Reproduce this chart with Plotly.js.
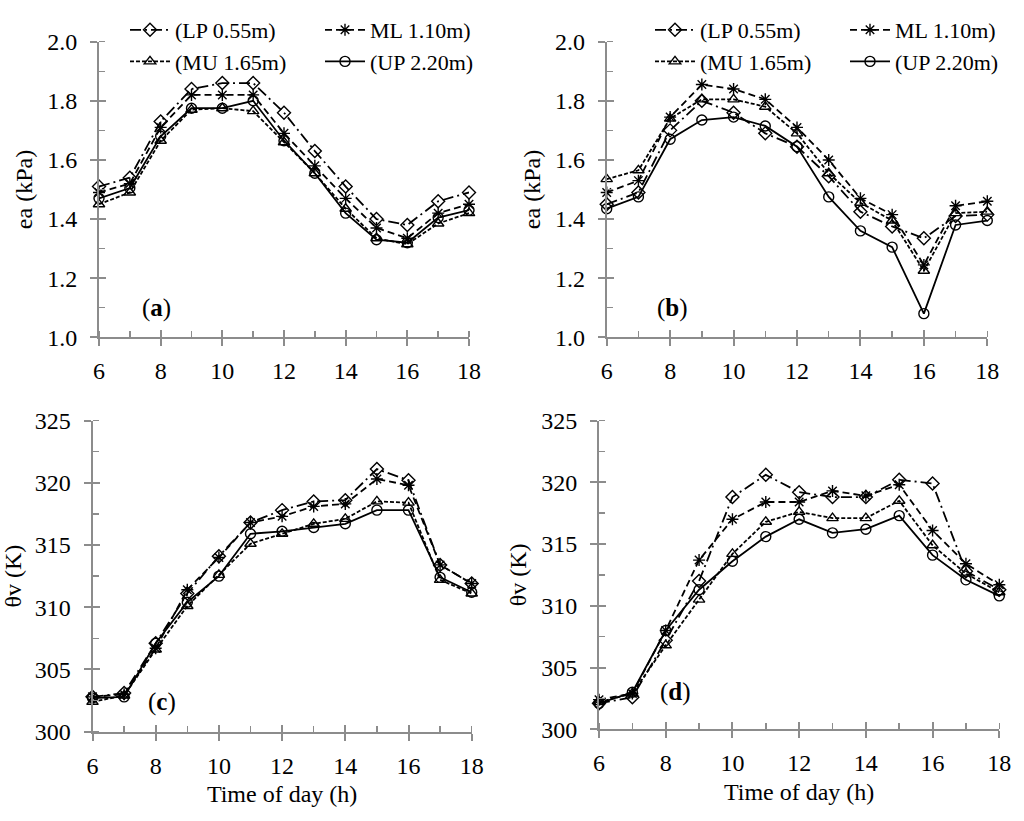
<!DOCTYPE html>
<html><head><meta charset="utf-8">
<script src="https://cdn.plot.ly/plotly-3.0.1.min.js"></script>
<style>html,body{margin:0;padding:0;background:#fff}#chart{width:1024px;height:821px}</style>
</head><body><div id="chart"></div>
<script>
// ---- data ----
const hours = [6,7,8,9,10,11,12,13,14,15,16,17,18];
const seriesNames = ['(LP 0.55m)', 'ML 1.10m)', '(MU 1.65m)', '(UP 2.20m)'];
const panelLabels = ['a','b','c','d'];
const eaTitle = 'ea (kPa)';
const thetaTitle = 'θv (K)';
const timeTitle = 'Time of day (h)';

// (a) vapour pressure
const eaA_LP = [1.51,1.54,1.73,1.84,1.86,1.86,1.76,1.63,1.51,1.40,1.38,1.46,1.49];
const eaA_ML = [1.49,1.52,1.71,1.82,1.82,1.82,1.69,1.58,1.47,1.37,1.335,1.42,1.45];
const eaA_MU = [1.45,1.49,1.665,1.77,1.775,1.765,1.66,1.555,1.435,1.335,1.315,1.385,1.42];
const eaA_UP = [1.47,1.505,1.68,1.775,1.775,1.80,1.665,1.555,1.42,1.33,1.32,1.405,1.43];
// (b) vapour pressure
const eaB_LP = [1.45,1.49,1.70,1.80,1.76,1.69,1.645,1.545,1.425,1.375,1.335,1.41,1.415];
const eaB_ML = [1.49,1.53,1.745,1.855,1.84,1.805,1.71,1.60,1.47,1.415,1.245,1.445,1.46];
const eaB_MU = [1.535,1.565,1.74,1.805,1.805,1.78,1.69,1.555,1.455,1.395,1.225,1.42,1.425];
const eaB_UP = [1.435,1.475,1.67,1.735,1.745,1.715,1.645,1.475,1.36,1.305,1.08,1.38,1.395];
// (c) virtual potential temperature
const thC_LP = [302.8,303.1,307.1,311.1,314.1,316.8,317.8,318.5,318.6,321.1,320.2,313.4,311.9];
const thC_ML = [302.8,303.0,306.7,311.4,314.0,316.8,317.3,318.1,318.3,320.3,319.8,313.4,311.9];
const thC_MU = [302.4,302.9,306.6,310.1,312.6,315.1,315.9,316.7,317.1,318.5,318.4,312.2,311.1];
const thC_UP = [302.7,302.8,307.1,310.4,312.5,315.9,316.1,316.4,316.7,317.8,317.8,312.4,311.2];
// (d) virtual potential temperature
const thD_LP = [302.1,302.6,307.2,312.0,318.8,320.6,319.2,318.8,318.8,320.2,319.9,312.8,311.3];
const thD_ML = [302.4,302.9,308.0,313.7,317.0,318.4,318.4,319.3,318.9,319.8,316.1,313.4,311.7];
const thD_MU = [302.2,302.9,306.8,310.5,314.2,316.8,317.6,317.1,317.1,318.5,314.9,312.6,311.1];
const thD_UP = [302.1,303.0,308.0,311.3,313.6,315.6,317.0,315.9,316.2,317.3,314.1,312.1,310.8];

const xRange = [6,18];
const eaRange = [1.0,2.0];
const thRange = [300,325];

// ---- styles ----
const gray = '#8c8c8c';
const fam = 'Liberation Serif, Times New Roman, serif';
const seriesStyle = [
  {symbol:'diamond-open',    dash:'11px,4px,2px,4px'},
  {symbol:'asterisk-open',   dash:'7px,4px'},
  {symbol:'triangle-up-open',dash:'4px,2px'},
  {symbol:'circle-open',     dash:'solid'}
];

// legend column per series: LP & MU in left column, ML & UP in right column
const legendCol = [0, 1, 0, 1];

const panels = [
  {s:'',  data:[eaA_LP,eaA_ML,eaA_MU,eaA_UP], legends:['legend','legend2'],
   xdom:[99/1024,469/1024], ydom:[1-337.3/821,1-41.7/821], yr:eaRange, dt:0.2, mdt:0.1, fmt:'.1f', ytitle:eaTitle, xtitle:null, lab:[7.88,1.10]},
  {s:'2', data:[eaB_LP,eaB_ML,eaB_MU,eaB_UP], legends:['legend3','legend4'],
   xdom:[606.7/1024,987.3/1024], ydom:[1-337.3/821,1-41.7/821], yr:eaRange, dt:0.2, mdt:0.1, fmt:'.1f', ytitle:eaTitle, xtitle:null, lab:[8.06,1.10]},
  {s:'3', data:[thC_LP,thC_ML,thC_MU,thC_UP], legends:null,
   xdom:[92.5/1024,471.7/1024], ydom:[1-731.7/821,1-420.5/821], yr:thRange, dt:5, mdt:2.5, fmt:'d', ytitle:thetaTitle, xtitle:timeTitle, lab:[8.21,302.4]},
  {s:'4', data:[thD_LP,thD_ML,thD_MU,thD_UP], legends:null,
   xdom:[599/1024,999.3/1024], ydom:[1-729.3/821,1-420.5/821], yr:thRange, dt:5, mdt:2.5, fmt:'d', ytitle:thetaTitle, xtitle:timeTitle, lab:[8.28,303.0]}
];

const traces = [];
const layout = {
  width:1024, height:821, margin:{l:0,r:0,t:0,b:0},
  paper_bgcolor:'#fff', plot_bgcolor:'rgba(0,0,0,0)',
  font:{family:fam, color:'#000'},
  showlegend:true, annotations:[]
};

const tickFont = {family:fam, size:24, color:'#000'};
const titleFont = {family:fam, size:24, color:'#000'};

panels.forEach((p, i) => {
  p.data.forEach((vals, k) => {
    const st = seriesStyle[k];
    const t = {
      x: hours, y: vals, xaxis:'x'+p.s, yaxis:'y'+p.s,
      type:'scatter', mode:'lines+markers', name: seriesNames[k],
      line:{color:'#000', width:1.8, dash:st.dash},
      marker:{symbol:st.symbol, size:10, color:'#000', line:{color:'#000', width:1.4}},
      cliponaxis:false, hoverinfo:'skip'
    };
    if (p.legends) { t.legend = p.legends[legendCol[k]]; t.showlegend = true; }
    else t.showlegend = false;
    traces.push(t);
  });
  const ov = String(5 + i);
  traces.push({x:[], y:[], xaxis:'x'+ov, yaxis:'y'+ov, type:'scatter', mode:'markers', showlegend:false, hoverinfo:'skip'});

  layout['xaxis'+p.s] = {
    domain:p.xdom, anchor:'y'+p.s, range:xRange, tick0:6, dtick:2,
    ticks:'outside', ticklen:7, tickwidth:2, tickcolor:gray,
    showline:true, linecolor:gray, linewidth:2, showgrid:false, zeroline:false,
    tickfont:tickFont, ticklabelstandoff:4,
    minor:{ticks:'inside', tick0:6, dtick:1, ticklen:6, tickwidth:1.5, tickcolor:gray, showgrid:false},
    title: p.xtitle ? {text:p.xtitle, font:titleFont, standoff:8} : {text:''}
  };
  layout['yaxis'+p.s] = {
    domain:p.ydom, anchor:'x'+p.s, range:p.yr, tick0:p.yr[0], dtick:p.dt, tickformat:p.fmt,
    ticks:'outside', ticklen:7, tickwidth:2, tickcolor:gray,
    showline:true, linecolor:gray, linewidth:2, showgrid:false, zeroline:false,
    tickfont:tickFont, ticklabelstandoff:8,
    minor:{ticks:'inside', tick0:p.yr[0], dtick:p.mdt, ticklen:6, tickwidth:1.5, tickcolor:gray, showgrid:false},
    title:{text:p.ytitle, font:titleFont, standoff:8}
  };
  layout['xaxis'+ov] = {
    overlaying:'x'+p.s, anchor:'y'+ov, range:xRange, tick0:6, dtick:2, side:'bottom',
    ticks:'inside', ticklen:7, tickwidth:2, tickcolor:gray,
    showline:false, showgrid:false, zeroline:false, showticklabels:false
  };
  layout['yaxis'+ov] = {
    overlaying:'y'+p.s, anchor:'x'+ov, range:p.yr, tick0:p.yr[0], dtick:p.dt, side:'left',
    ticks:'inside', ticklen:7, tickwidth:2, tickcolor:gray,
    showline:false, showgrid:false, zeroline:false, showticklabels:false
  };
  layout.annotations.push({
    xref:'x'+p.s, yref:'y'+p.s, x:p.lab[0], y:p.lab[1], showarrow:false,
    text:'(<b>'+panelLabels[i]+'</b>)', font:{family:fam, size:25, color:'#000'}
  });
});

const legBase = {orientation:'v', bgcolor:'rgba(0,0,0,0)', borderwidth:0,
  font:{family:fam, size:22, color:'#000'}, xanchor:'left', yanchor:'top',
  itemwidth:40, tracegroupgap:0, itemclick:false, itemdoubleclick:false};
layout.legend  = Object.assign({}, legBase, {x:125/1024, y:1-9/821});
layout.legend2 = Object.assign({}, legBase, {x:320/1024, y:1-9/821});
layout.legend3 = Object.assign({}, legBase, {x:650/1024, y:1-9/821});
layout.legend4 = Object.assign({}, legBase, {x:845/1024, y:1-9/821});

Plotly.newPlot('chart', traces, layout, {staticPlot:true, displayModeBar:false});
</script>
</body></html>
